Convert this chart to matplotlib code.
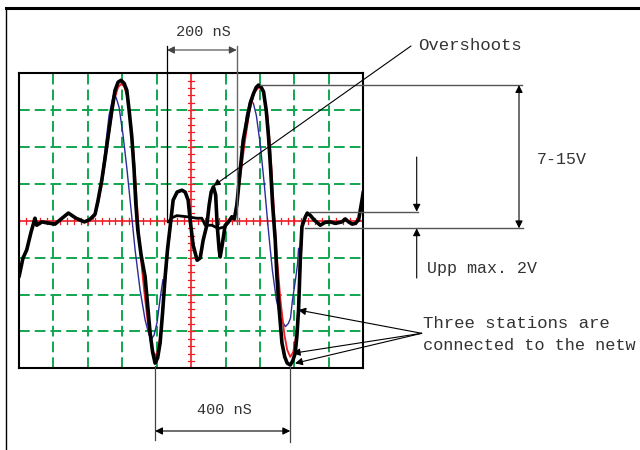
import matplotlib
matplotlib.use("Agg")
import matplotlib.pyplot as plt

# time in ns (100 ns / division), voltage in divisions
black_t = [0, 11.6, 22.4, 34.9, 46.5, 51.4, 66, 84.3, 104.7, 125, 143.3, 165.7, 190, 205,
           221, 229.7, 240.4, 250, 258.7, 268.9, 279, 287.8, 296.5, 305.2, 313.1, 319.8,
           327.6, 334.3, 339.2, 345, 354.7, 366.3, 380.8, 388.1, 395.3, 402.6, 409.9, 417.2,
           424.4, 431.7, 439, 447.7, 459.3, 473, 482.6, 491.3, 497.1, 505.8, 517.4, 526.2,
           535, 545.6, 552.3, 558.1, 564.8, 571.2, 575.6, 581.4, 584.3, 590.1, 598.8, 607.6,
           618.3, 625.4, 632.7, 642.4, 651.2, 662, 671.5, 681.1, 689, 695.6, 703.5, 710.2,
           718, 724.7, 731, 736.3, 744.2, 749.1, 755.8, 763.7, 771.8, 779, 787.8, 795,
           802.3, 807.3, 811.9, 814.5, 816.9, 821.8, 831.4, 837.2, 845.9, 857.6, 875, 889.5,
           904, 918.6, 938, 947.7, 957.3, 968, 976.7, 986.3, 996.2, 1000]
black_v = [-1.52, -1.01, -0.79, -0.31, 0.07, -0.12, -0.03, -0.06, -0.09, 0.07, 0.21, 0.07,
           -0.03, 0.03, 0.18, 0.56, 1.10, 1.70, 2.28, 2.95, 3.54, 3.76, 3.81, 3.73, 3.54, 3.0,
           2.28, 1.37, 0.48, -0.25, -0.93, -1.52, -3.04, -3.56, -3.86, -3.72, -3.31, -2.47,
           -1.52, -0.74, -0.16, 0.56, 0.78, 0.83, 0.78, 0.56, 0.02, -0.66, -1.07, -1.01,
           -0.52, -0.12, 0.43, 0.78, 0.92, 0.70, -0.12, -0.79, -0.98, -0.66, -0.12, -0.04,
           0.11, 0.05, 0.43, 1.37, 2.19, 2.73, 3.19, 3.45, 3.62, 3.68, 3.62, 3.50,
           3.0, 2.28, 1.37, 0.47, -0.52, -1.52, -2.42, -3.31, -3.69, -3.86, -3.91, -3.80,
           -3.59, -3.10, -2.42, -1.74, -1.07, -0.16, 0.10, 0.21, 0.15, 0.02, -0.12, -0.04,
           -0.03, -0.07, -0.03, 0.05, -0.03, -0.09, -0.07, 0.02, 0.56, 0.79]

# second (thinner) black trace between the pulses
black2_t = [434, 443.9, 458.4, 487.5, 516.6, 531.1, 540.7, 560.2, 579.4, 598.8, 608.4]
black2_v = [-0.03, 0.08, 0.14, 0.11, 0.07, 0.07, -0.12, -0.12, -0.21, -0.16, -0.03]

red1_t = [215, 229.7, 241.3, 258.7, 276.2, 287.8, 296.5, 305.2, 313.9, 325.6, 334.3, 343,
          351.7, 363.4, 375, 385.2, 395.3, 404.1, 412.8, 421.5, 430.2, 439]
red1_v = [0.05, 0.45, 1.02, 2.19, 3.27, 3.62, 3.71, 3.65, 3.38, 2.59, 1.65, 0.43,
          -0.79, -1.88, -2.83, -3.42, -3.69, -3.50, -2.96, -2.01, -1.07, -0.25]
red2_t = [625.4, 639.9, 654.5, 669, 683.6, 698.1, 709.8, 721.5, 730.2, 738.9, 747.6, 759.3,
          771, 779, 787.8, 796.5, 805.2, 812.5, 818.3, 822.7]
red2_v = [0.05, 0.97, 2.05, 2.95, 3.49, 3.63, 3.49, 2.86, 1.92, 0.56, -0.79, -2.15,
          -3.10, -3.50, -3.69, -3.56, -3.10, -2.15, -1.07, -0.20]

blue1_t = [221, 235.5, 250, 261.6, 274.1, 281.9, 290.6, 302.3, 313.9, 325.6, 337.2, 351.7,
           366.3, 377.9, 385.7, 392.4, 401.1, 410, 418]
blue1_v = [0.13, 0.83, 1.92, 2.86, 3.41, 3.35, 3.08, 2.32, 1.37, 0.29, -0.79, -1.88,
           -2.69, -3.10, -3.19, -3.10, -2.75, -2.10, -1.60]
blue2_t = [625.4, 637, 648.6, 660.3, 671.9, 680.6, 689.3, 701, 712.6, 724.3, 735.9, 747.6,
           759.3, 773.8, 782.6, 788.5, 794.3, 803, 808.7, 812]
blue2_v = [0.05, 0.70, 1.92, 2.86, 3.27, 3.19, 2.86, 2.05, 0.97, -0.25, -1.34, -2.15,
           -2.64, -2.87, -2.78, -2.64, -2.15, -1.60, -1.20, -0.75]

GREEN = "#12a650"
RED = "#ee1c25"
TXT = "#333333"
FONT = "Liberation Mono"

# scope screen position in figure pixels
SX0, SX1, SY0, SY1 = 19, 363.3, 73.3, 368.3


def to_px(t, v):
    return SX0 + t / 1000 * (SX1 - SX0), SY1 - (v + 4) / 8 * (SY1 - SY0)


fig = plt.figure(figsize=(6.4, 4.5), dpi=100)
ax = fig.add_axes([SX0 / 640, (450 - SY1) / 450, (SX1 - SX0) / 640, (SY1 - SY0) / 450])
ax.set_xlim(0, 1000)
ax.set_ylim(-4, 4)
ax.set_xticks([])
ax.set_yticks([])
for s in ax.spines.values():
    s.set_linewidth(1.5)
    s.set_zorder(10)

# dashed graticule
for gx in range(100, 1000, 100):
    if gx != 500:
        ax.axvline(gx, color=GREEN, lw=1.4, ls=(0, (5.5, 2.6)), zorder=1)
for gy in range(-3, 4):
    if gy != 0:
        ax.axhline(gy, color=GREEN, lw=1.4, ls=(0, (5.5, 2.6)), zorder=1)

# red centre cross with sub-division ticks
ax.axhline(0, color=RED, lw=1.2, zorder=2)
ax.axvline(500, color=RED, lw=1.2, zorder=2)
for k in range(0, 51):
    tx = k * 20
    ax.plot([tx, tx], [-0.08, 0.08], color=RED, lw=0.9, zorder=2)
for k in range(-20, 21):
    ty = k * 0.2
    ax.plot([491, 509], [ty, ty], color=RED, lw=0.9, zorder=2)

ax.plot(blue1_t, blue1_v, color="#2b2b9a", lw=1.0, zorder=3)
ax.plot(blue2_t, blue2_v, color="#2b2b9a", lw=1.0, zorder=3)
ax.plot(red1_t, red1_v, color=RED, lw=1.3, zorder=4)
ax.plot(red2_t, red2_v, color=RED, lw=1.3, zorder=4)
ax.plot(black2_t, black2_v, color="black", lw=2.0, zorder=5, solid_capstyle="round")
ax.plot(black_t, black_v, color="black", lw=2.6, zorder=6, solid_capstyle="round")

# overlay in pixel coordinates for dimension lines and labels
ov = fig.add_axes([0, 0, 1, 1], zorder=5)
ov.set_xlim(0, 640)
ov.set_ylim(450, 0)
ov.axis("off")
ov.patch.set_alpha(0)

ov.plot([6, 640], [8, 8], color="black", lw=2.2)
ov.plot([6, 6], [8, 450], color="black", lw=1.0)


def arrow(x0, y0, x1, y1, color="black", lw=0.8, both=False):
    ov.annotate("", xy=(x1, y1), xytext=(x0, y0),
                arrowprops=dict(arrowstyle="<|-|>" if both else "-|>", color=color, lw=lw,
                                mutation_scale=11, shrinkA=0, shrinkB=0))


# 200 nS
ov.plot([167, 167], [46, 222], color="black", lw=0.9)
ov.plot([236.7, 236.7], [46, 224], color="#666666", lw=1.0)
arrow(167, 50, 236.7, 50, color="#444444", both=True)
ov.text(203.5, 32, "200 nS", family=FONT, fontsize=11, color=TXT, ha="center", va="center")

# 400 nS, from the two negative peaks
i1 = black_v.index(min(black_v[:40]))
i2 = black_v.index(min(black_v[60:]))
px1 = to_px(black_t[i1], 0)[0]
px2 = to_px(black_t[i2], 0)[0]
ov.plot([px1, px1], [366, 440], color="#444444", lw=0.9)
ov.plot([px2, px2], [366, 442], color="#444444", lw=0.9)
arrow(px1, 431, px2, 431, color="black", both=True)
ov.text(224, 410, "400 nS", family=FONT, fontsize=11, color=TXT, ha="center", va="center")

# Overshoots
tip = to_px(black_t[black_v.index(max(black_v[50:60]))], max(black_v[50:60]))
ov.annotate("", xy=(tip[0], tip[1] - 1), xytext=(411, 46),
            arrowprops=dict(arrowstyle="-|>", color="black", lw=0.8, mutation_scale=10,
                            shrinkA=0, shrinkB=0))
ov.text(418, 46, "Overshoots", family=FONT, fontsize=12.5, color=TXT, ha="left", va="center")

# 7-15V
peak = to_px(black_t[black_v.index(max(black_v[60:]))], max(black_v[60:]))
ov.plot([peak[0] + 2, 522], [peak[1], peak[1]], color="#555555", lw=1.0)
ov.plot([305, 523], [228.3, 228.3], color="#555555", lw=1.0)
arrow(519, peak[1], 519, 228.3, both=True)
ov.text(537, 159, "7-15V", family=FONT, fontsize=12, color=TXT, ha="left", va="center")

# Upp max. 2V
ov.plot([310, 418], [211.7, 211.7], color="#555555", lw=1.0)
arrow(416.7, 157, 416.7, 211.7)
arrow(416.7, 278, 416.7, 228.3)
ov.text(427, 268, "Upp max. 2V", family=FONT, fontsize=12, color=TXT, ha="left", va="center")

# Three stations (the label runs off the right edge in the original)
for tx, ty in [(298.3, 310), (292.7, 353.3), (295, 363.3)]:
    arrow(421.7, 333.3, tx, ty)
ov.text(423, 324, "Three stations are", family=FONT, fontsize=12.5, color=TXT,
        ha="left", va="center")
ov.text(423, 345, "connected to the netw", family=FONT, fontsize=12.2, color=TXT,
        ha="left", va="center")

fig.savefig("out.png", dpi=100)
